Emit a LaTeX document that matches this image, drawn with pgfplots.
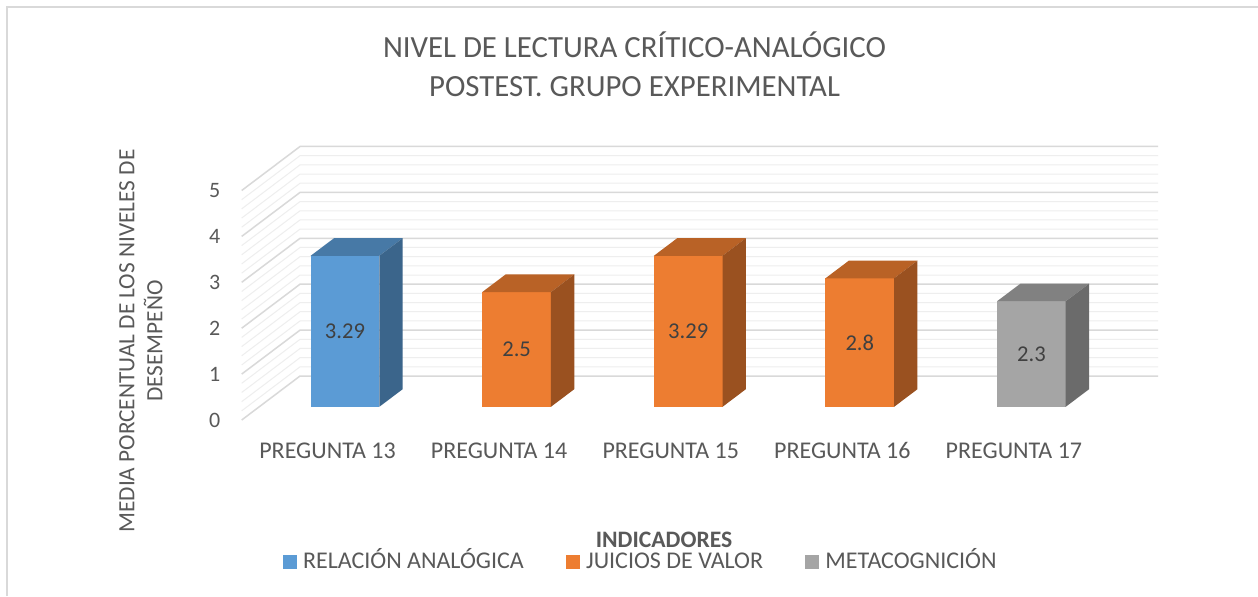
\documentclass[border=0pt]{standalone}
\usepackage{fontspec}
\setmainfont{Carlito}
\usepackage{pgfplots}
\usepackage{pgfplotstable}
\pgfplotsset{compat=1.18}

\definecolor{txt}{HTML}{595959}
\definecolor{lbl}{HTML}{404040}
\definecolor{gmaj}{HTML}{D9D9D9}
\definecolor{gmin}{HTML}{EEEEEE}
\definecolor{frame}{HTML}{D9D9D9}
\definecolor{bF}{HTML}{5B9BD5}\definecolor{bT}{HTML}{4779A6}\definecolor{bS}{HTML}{3B658B}
\definecolor{oF}{HTML}{ED7D31}\definecolor{oT}{HTML}{B96226}\definecolor{oS}{HTML}{9A5120}
\definecolor{gF}{HTML}{A5A5A5}\definecolor{gT}{HTML}{818181}\definecolor{gS}{HTML}{6B6B6B}

% unit box faces: u = offset across the bar, d = depth, h = 0 (base) / 1 (value)
\pgfplotstableread{
u d h
-0.2 0.3 0
0.2 0.3 0
0.2 0.3 1
-0.2 0.3 1
}\frontface
\pgfplotstableread{
u d h
-0.2 0.3 1
0.2 0.3 1
0.2 0.7 1
-0.2 0.7 1
}\topface
\pgfplotstableread{
u d h
0.2 0.3 0
0.2 0.7 0
0.2 0.7 1
0.2 0.3 1
}\sideface
\pgfplotstableread{
x d
-0.5 0
-0.16 1
4.84 1
}\gridshape

\newcommand{\dx}{0.34}
\newcommand{\dy}{0.9586}

\newcommand{\drawbox}[3]{%
 \addplot[forget plot, fill=#3F, draw=none] table[x expr={#1+\thisrow{u}+\dx*\thisrow{d}}, y expr={#2*\thisrow{h}+\dy*\thisrow{d}}] {\frontface};
 \addplot[forget plot, fill=#3T, draw=none] table[x expr={#1+\thisrow{u}+\dx*\thisrow{d}}, y expr={#2*\thisrow{h}+\dy*\thisrow{d}}] {\topface};
 \addplot[forget plot, fill=#3S, draw=none] table[x expr={#1+\thisrow{u}+\dx*\thisrow{d}}, y expr={#2*\thisrow{h}+\dy*\thisrow{d}}] {\sideface};
 \addplot[forget plot, draw=none, only marks, mark=*, mark size=0pt, mark options={draw=none,fill=none},
   nodes near coords={#2},
   every node near coord/.style={anchor=center, font=\fontsize{11.3}{13}\selectfont, text=lbl},
   x filter/.expression={x+0.3*\dx}, y filter/.expression={y/2+0.3*\dy}] coordinates {(#1,#2)};
}

\begin{document}
\begin{tikzpicture}
\useasboundingbox (0,0) rectangle (629pt,298pt);
\fill[white] (0,0) rectangle (629pt,298pt);
\draw[frame, line width=0.75pt] (3.5pt,0) -- (3.5pt,294.5pt) -- (629pt,294.5pt);
\begin{axis}[
  at={(120.85pt,88pt)}, anchor=south west,
  x=85.8pt, y=22.95pt,
  xmin=-0.5, xmax=4.84, ymin=0, ymax=5.9586,
  enlargelimits=false, clip=false,
  axis line style={draw=none}, major tick length=0pt, minor tick num=0,
  xtick={0,1,2,3,4},
  xticklabels={PREGUNTA 13,PREGUNTA 14,PREGUNTA 15,PREGUNTA 16,PREGUNTA 17},
  ytick={0,1,2,3,4,5},
  /pgf/number format/assume math mode=true,
  ticklabel style={text=txt},
  yticklabel style={font=\fontsize{11}{13}\selectfont, xshift=-7.2pt},
  xticklabel style={font=\fontsize{12}{14}\selectfont, text height=8pt, text depth=0pt, yshift=-7.5pt},
  title={NIVEL DE LECTURA CRÍTICO-ANALÓGICO\\POSTEST. GRUPO EXPERIMENTAL},
  title style={align=center, font=\fontsize{15.4}{19.5}\selectfont, text=txt,
    at={(axis description cs:0.4287,1.2577)}, anchor=center},
  xlabel={INDICADORES},
  xlabel style={font=\bfseries\fontsize{11.8}{14}\selectfont, text=txt, inner sep=0pt,
    at={(axis description cs:0.4609,-0.4678)}, anchor=base},
  ylabel={MEDIA PORCENTUAL DE LOS NIVELES DE\\DESEMPEÑO},
  ylabel style={align=center, font=\fontsize{11.65}{14}\selectfont, text=txt,
    at={(axis description cs:-0.1099,0.2887)}, anchor=center},
  legend columns=3,
  legend cell align=left,
  legend image code/.code={\fill[#1] (0pt,-3pt) rectangle (7pt,4pt);},
  legend style={at={(axis description cs:0.04475,-0.5227)}, anchor=west,
    draw=none, fill=none, inner sep=0pt, outer sep=0pt,
    font=\fontsize{12}{14}\selectfont, text=txt,
    nodes={inner sep=0pt, text height=8pt, text depth=2pt},
    /tikz/every odd column/.style={column sep=3.15pt},
    /tikz/every even column/.style={column sep=21pt}},
]
% grid: left wall and back wall
\pgfplotsinvokeforeach{1,2,3,4,6,7,8,9,11,12,13,14,16,17,18,19,21,22,23,24}{
  \addplot[forget plot, gmin, line width=0.5pt] table[x=x, y expr={#1*0.2+\dy*\thisrow{d}}] {\gridshape};
}
\pgfplotsinvokeforeach{0,5,10,15,20,25}{
  \addplot[forget plot, gmaj, line width=0.75pt] table[x=x, y expr={#1*0.2+\dy*\thisrow{d}}] {\gridshape};
}
% bars
\drawbox{0}{3.29}{b}
\drawbox{1}{2.5}{o}
\drawbox{2}{3.29}{o}
\drawbox{3}{2.8}{o}
\drawbox{4}{2.3}{g}
% legend
\addlegendimage{fill=bF, draw=none}
\addlegendentry{RELACIÓN ANALÓGICA}
\addlegendimage{fill=oF, draw=none}
\addlegendentry{JUICIOS DE VALOR}
\addlegendimage{fill=gF, draw=none}
\addlegendentry{METACOGNICIÓN}
\end{axis}
\end{tikzpicture}
\end{document}
